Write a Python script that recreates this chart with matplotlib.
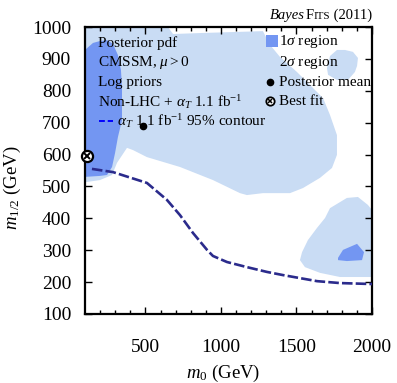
import numpy as np
import matplotlib
matplotlib.use("Agg")
import matplotlib.pyplot as plt
from matplotlib.offsetbox import TextArea, HPacker, AnnotationBbox

plt.rcParams['font.family'] = ['Liberation Serif', 'DejaVu Serif']
plt.rcParams['mathtext.fontset'] = 'custom'
plt.rcParams['mathtext.rm'] = 'Liberation Serif'
plt.rcParams['mathtext.it'] = 'Liberation Serif:italic'

# ---- data (m0, m1/2 in GeV) ----
# 2 sigma region, main lobe
sig2_main_m0 = [100, 649, 683, 861, 1278, 1325, 1391, 1503, 1590, 1676, 1722, 1768,
                1768, 1735, 1656, 1543, 1457, 1278, 1172, 1126, 947, 729, 510, 418,
                378, 312, 279, 199, 113, 100]
sig2_main_m12 = [1000, 1000, 978, 981, 987, 944, 906, 859, 818, 777, 724, 661,
                 599, 558, 527, 495, 479, 479, 473, 479, 520, 561, 592, 614,
                 621, 574, 536, 520, 514, 514]
# 2 sigma region, small upper-right island
sig2_up_m0 = [1702, 1722, 1768, 1821, 1874, 1907, 1901, 1887, 1841, 1768, 1709]
sig2_up_m12 = [871, 909, 928, 928, 922, 903, 878, 859, 834, 834, 850]
# 2 sigma region, lower-right island
sig2_lo_m0 = [1907, 1973, 2000, 2000, 1788, 1656, 1556, 1523, 1537, 1576, 1636,
              1689, 1722, 1834]
sig2_lo_m12 = [467, 442, 426, 216, 216, 229, 247, 269, 294, 332, 370,
               401, 432, 464]
# 1 sigma region, main lobe
sig1_main_m0 = [100, 153, 199, 246, 285, 318, 338, 345, 345, 318, 299, 279, 246, 199, 100]
sig1_main_m12 = [928, 950, 956, 959, 947, 912, 865, 812, 708, 655, 605, 561, 536, 533, 530]
# 1 sigma region, lower-right island
sig1_lo_m0 = [1775, 1808, 1901, 1947, 1934, 1834, 1775]
sig1_lo_m12 = [276, 301, 320, 294, 269, 266, 269]

# alpha_T 1.1/fb 95% exclusion contour
alphaT_m0 = [146, 285, 510, 642, 729, 815, 908, 947, 1040, 1172, 1304, 1411, 1636, 1788, 2000]
alphaT_m12 = [555, 545, 511, 458, 410, 354, 301, 282, 263, 247, 232, 222, 203, 197, 194]

post_mean = (484, 690)
best_fit = (110, 597)

left_lines = ["Posterior pdf", r"CMSSM, $\mu > 0$", "Log priors",
              r"Non-LHC + $\alpha_T$ 1.1 fb$^{-1}$"]
contour_label = r"$\alpha_T$ 1.1 fb$^{-1}$ 95% contour"

c_light = "#c9dcf4"
c_dark = "#7396f2"
c_line = "#2b2b8c"

fig = plt.figure(figsize=(3.97, 3.83), dpi=100)
ax = fig.add_axes([85 / 397, 1 - 314 / 383, 287 / 397, 287 / 383])

for xs, ys in [(sig2_main_m0, sig2_main_m12), (sig2_up_m0, sig2_up_m12),
               (sig2_lo_m0, sig2_lo_m12)]:
    ax.fill(xs, ys, color=c_light, lw=0, zorder=1)
for xs, ys in [(sig1_main_m0, sig1_main_m12), (sig1_lo_m0, sig1_lo_m12)]:
    ax.fill(xs, ys, color=c_dark, lw=0, zorder=2)

ax.plot(alphaT_m0, alphaT_m12, color=c_line, lw=1.9, dashes=(4, 1.2), zorder=3)

ax.plot(*post_mean, 'o', color='black', ms=4.5, zorder=5)
ax.plot(*best_fit, 'o', mfc='white', mec='black', ms=8, mew=1.6, zorder=6, clip_on=False)
ax.plot(*best_fit, 'x', color='black', ms=4.5, mew=1.4, zorder=7, clip_on=False)

# left text block
tx = 0.045
for ty, s in zip([0.944, 0.875, 0.808, 0.739], left_lines):
    ax.text(tx, ty, s, transform=ax.transAxes, fontsize=11, va='center', ha='left', zorder=8)
ax.plot([0.049, 0.098], [0.672, 0.672], transform=ax.transAxes, color='blue',
        lw=1.4, dashes=(3, 1.5), zorder=8)
ax.text(0.111, 0.672, contour_label, transform=ax.transAxes, fontsize=11,
        va='center', ha='left', zorder=8)

# right legend block
ax.fill([0.631, 0.672, 0.672, 0.631], [0.930, 0.930, 0.971, 0.971],
        transform=ax.transAxes, color=c_dark, lw=0, zorder=8)
rx = 0.676
ax.text(rx, 0.948, r"1$\sigma$ region", transform=ax.transAxes, fontsize=11, va='center', zorder=8)
ax.text(rx, 0.875, r"2$\sigma$ region", transform=ax.transAxes, fontsize=11, va='center', zorder=8)
ax.text(rx, 0.808, "Posterior mean", transform=ax.transAxes, fontsize=11, va='center', zorder=8)
ax.text(rx, 0.742, "Best fit", transform=ax.transAxes, fontsize=11, va='center', zorder=8)
ax.plot(0.645, 0.808, 'o', color='black', ms=4.5, transform=ax.transAxes, zorder=8)
ax.plot(0.645, 0.742, 'o', mfc='white', mec='black', ms=6, mew=1.3, transform=ax.transAxes, zorder=8)
ax.plot(0.645, 0.742, 'x', color='black', ms=3.5, mew=1.1, transform=ax.transAxes, zorder=9)

ax.set_xlim(100, 2000)
ax.set_ylim(100, 1000)
ax.set_xticks([500, 1000, 1500, 2000])
ax.set_xticks(np.arange(200, 2000, 100), minor=True)
ax.set_yticks(np.arange(100, 1001, 100))
ax.tick_params(which='both', direction='in', top=True, right=True, width=1.0)
ax.tick_params(which='major', length=5)
ax.tick_params(which='minor', length=3)
ax.tick_params(axis='x', pad=18, labelsize=14)
ax.tick_params(axis='y', pad=10, labelsize=14)
for sp in ax.spines.values():
    sp.set_linewidth(1.6)

ax.set_xlabel(r"$m_0$ (GeV)", fontsize=13.5)
ax.set_ylabel(r"$m_{1/2}$ (GeV)", fontsize=13.5)
ax.xaxis.set_label_coords(0.48, -0.172)
ax.yaxis.set_label_coords(-0.215, 0.44)

parts = [TextArea("Bayes", textprops=dict(style='italic', size=10.5)),
         TextArea("F", textprops=dict(size=10.5)),
         TextArea("ITS", textprops=dict(size=8)),
         TextArea(" (2011)", textprops=dict(size=10.5))]
box = HPacker(children=parts, align="baseline", pad=0, sep=0)
ab = AnnotationBbox(box, (1.0, 1.018), xycoords='axes fraction',
                    box_alignment=(1, 0), frameon=False)
ax.add_artist(ab)

fig.savefig("out.png", dpi=100)
